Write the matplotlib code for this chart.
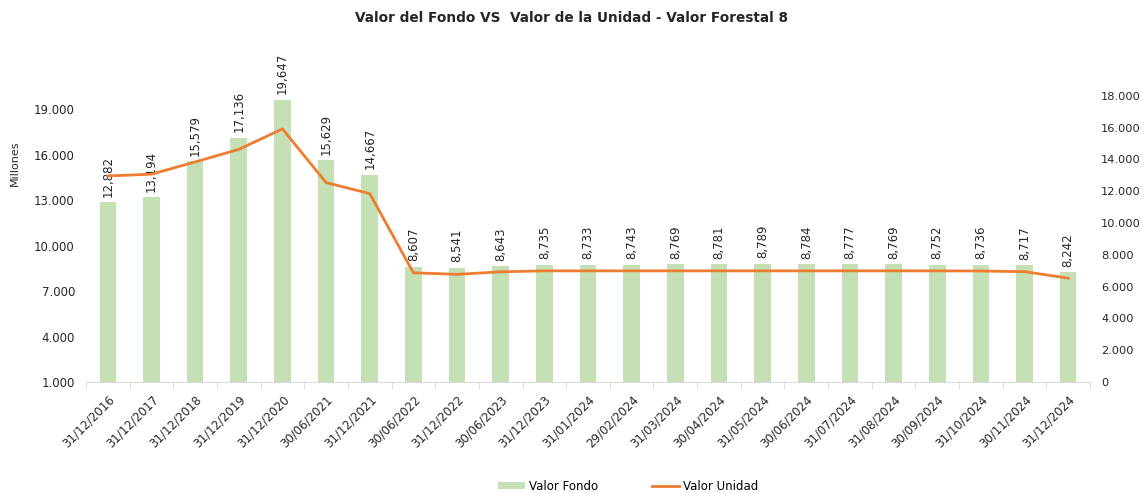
import matplotlib
matplotlib.use("Agg")
import matplotlib.pyplot as plt
import numpy as np
from matplotlib.ticker import FuncFormatter
from matplotlib.patches import Patch
from matplotlib.lines import Line2D

fechas = ["31/12/2016", "31/12/2017", "31/12/2018", "31/12/2019", "31/12/2020",
          "30/06/2021", "31/12/2021", "30/06/2022", "31/12/2022", "30/06/2023",
          "31/12/2023", "31/01/2024", "29/02/2024", "31/03/2024", "30/04/2024",
          "31/05/2024", "30/06/2024", "31/07/2024", "31/08/2024", "30/09/2024",
          "31/10/2024", "30/11/2024", "31/12/2024"]

# Valor Fondo (millones)
valor_fondo = [12882, 13194, 15579, 17136, 19647, 15629, 14667, 8607, 8541, 8643,
               8735, 8733, 8743, 8769, 8781, 8789, 8784, 8777, 8769, 8752,
               8736, 8717, 8242]

# Valor Unidad (eje derecho)
valor_unidad = [12960, 13070, 13840, 14630, 15920, 12540, 11850, 6870, 6770, 6930,
                6990, 6990, 6990, 6990, 6990, 6990, 6990, 6990, 6990, 6990,
                6980, 6940, 6530]

verde = "#C5E0B4"
naranjo = "#ED7D31"
gris_txt = "#262626"

plt.rcParams["font.family"] = "DejaVu Sans"

fig = plt.figure(figsize=(11.43, 4.93), dpi=100)
ax = fig.add_axes([86 / 1143, 1 - 382 / 493, (1090 - 86) / 1143, (382 - 64) / 493])
ax2 = ax.twinx()

x = np.arange(len(fechas))
ax.bar(x, valor_fondo, width=0.38, color=verde, zorder=2)
ax2.plot(x, valor_unidad, color=naranjo, linewidth=2.0, zorder=3)

for xi, v in zip(x, valor_fondo):
    ax.annotate(f"{v:,}", (xi, v), xytext=(0, 4), textcoords="offset points",
                rotation=90, ha="center", va="bottom", fontsize=8.5,
                color=gris_txt, clip_on=False)

ax.set_xlim(-0.5, len(fechas) - 0.5)
ax.set_ylim(1000, 22000)
ax.set_yticks(np.arange(1000, 19001, 3000))
ax2.set_ylim(0, 20000)
ax2.set_yticks(np.arange(0, 18001, 2000))

fmt = FuncFormatter(lambda v, p: f"{int(v):,}".replace(",", "."))
ax.yaxis.set_major_formatter(fmt)
ax2.yaxis.set_major_formatter(fmt)

ax.set_xticks(x)
ax.set_xticklabels(fechas, rotation=45, ha="right", rotation_mode="anchor",
                   fontsize=8.5, color=gris_txt)
ax.set_xticks(np.arange(-0.5, len(fechas), 1), minor=True)
ax.tick_params(axis="x", which="major", length=0, pad=8)
ax.tick_params(axis="x", which="minor", length=5, color="#D9D9D9")
ax.tick_params(axis="y", length=0, labelsize=8.5, labelcolor=gris_txt, pad=8)
ax2.tick_params(axis="y", length=0, labelsize=8.2, labelcolor=gris_txt, pad=8)

for a in (ax, ax2):
    for s in ("top", "left", "right"):
        a.spines[s].set_visible(False)
    a.spines["bottom"].set_color("#D9D9D9")
ax2.spines["bottom"].set_visible(False)

fig.text(0.5, 1 - 18 / 493, "Valor del Fondo VS  Valor de la Unidad - Valor Forestal 8",
         ha="center", va="center", fontsize=9.8, fontweight="bold", color=gris_txt)
fig.text(15 / 1143, 1 - 163 / 493, "Millones", rotation=90, ha="center", va="center",
         fontsize=8, color=gris_txt)

handles = [Patch(facecolor=verde, edgecolor="none"),
           Line2D([0], [0], color=naranjo, linewidth=2.0)]
fig.legend(handles, ["Valor Fondo", "Valor Unidad"], loc="center",
           bbox_to_anchor=(628 / 1143, 1 - 486 / 493), ncol=2, frameon=False,
           fontsize=8.5, handlelength=2.3, handleheight=0.6, handletextpad=0.3,
           columnspacing=4.6)

fig.savefig("out.png", dpi=100)
